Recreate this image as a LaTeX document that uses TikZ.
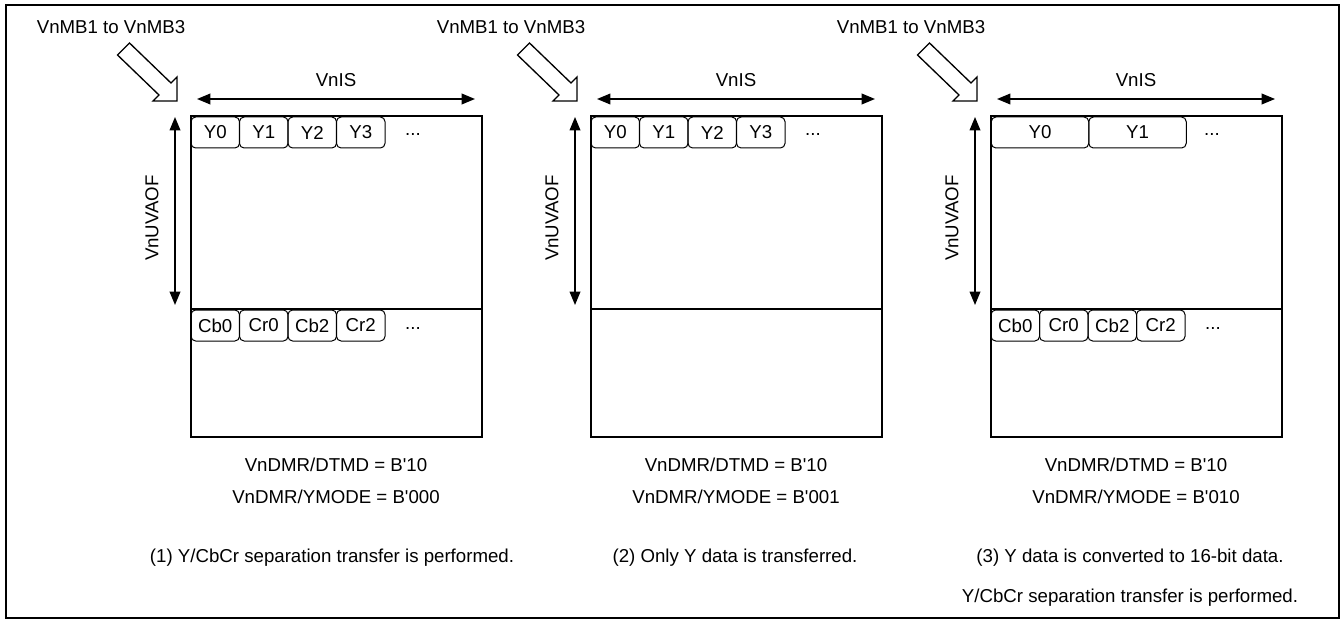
\documentclass[tikz,border=0pt]{standalone}
\usepackage{fontspec}
\setmainfont{Liberation Sans}[Ligatures=TeXOff]
\usetikzlibrary{arrows.meta}
\begin{document}
\begin{tikzpicture}[x=0.75pt,y=-0.75pt,
  lbl/.style={inner sep=0pt,font=\fontsize{14pt}{16pt}\selectfont},
  cell/.style={draw,line width=0.75pt,rounded corners=3.5pt,inner sep=0pt,
    minimum height=23.25pt,font=\fontsize{14pt}{16pt}\selectfont},
  narrow/.style={cell,minimum width=36.4pt},
  wide/.style={cell,minimum width=73.1pt},
  memframe/.style={draw,line width=1.5pt},
  dimarrow/.style={line width=1.1pt,{Triangle[length=10pt,width=8pt]}-{Triangle[length=10pt,width=8pt]}},
  hollow/.style={draw,line width=1pt,fill=white,line join=miter}]
\useasboundingbox (0,0) rectangle (1344,624);
\draw[line width=1.5pt] (6,5) rectangle (1339,618);

% ---------- common parts of each panel ----------
\foreach \k in {0,1,2}{
\begin{scope}[shift={(400*\k,0)}]
  \node[lbl] (mb\k) at (111,27) {VnMB1 to VnMB3};
  \draw[hollow] (129.5,43) -- (171,83) -- (177,77) -- (177,101) -- (153,101) -- (159,95) -- (117.5,55) -- cycle;
  \node[lbl] (is\k) at (336,80) {VnIS};
  \coordinate (isL\k) at (197,99);
  \coordinate (isR\k) at (475,99);
  \draw[dimarrow] (isL\k) -- (isR\k);
  \coordinate (uvT\k) at (175,117);
  \coordinate (uvB\k) at (175,305);
  \draw[dimarrow] (uvT\k) -- (uvB\k);
  \node[lbl,rotate=90] (uv\k) at (152,218) {VnUVAOF};
  \node[lbl] (dt\k) at (336,465) {VnDMR/DTMD = B'10};
\end{scope}
}

% ---------- panel 1 ----------
\foreach \t [count=\i from 0] in {Y0,Y1,Y2,Y3}
  \node[narrow] (a\t) at ({215.25+48.5*\i},132.5) {\t};
\node[lbl] (adots) at (413,135) {...};
\foreach \t [count=\i from 0] in {Cb0,Cr0,Cb2,Cr2}
  \node[narrow] (a\t) at ({215.25+48.5*\i},325.5) {\t};
\node[lbl] (adots2) at (413,328) {...};
\draw[memframe] (191,116) rectangle (482,437);
\draw[memframe] (191,309) -- (482,309);
\node[lbl] (ym1) at (336,497) {VnDMR/YMODE = B'000};
\node[lbl] (c1) at (332,558) {(1) Y/CbCr separation transfer is performed.};

% ---------- panel 2 ----------
\foreach \t [count=\i from 0] in {Y0,Y1,Y2,Y3}
  \node[narrow] (b\t) at ({615.25+48.5*\i},132.5) {\t};
\node[lbl] (bdots) at (813,135) {...};
\draw[memframe] (591,116) rectangle (882,437);
\draw[memframe] (591,309) -- (882,309);
\node[lbl] (ym2) at (736,497) {VnDMR/YMODE = B'001};
\node[lbl] (c2) at (735,558) {(2) Only Y data is transferred.};

% ---------- panel 3 ----------
\foreach \t [count=\i from 0] in {Y0,Y1}
  \node[wide] (c\t) at ({1040+97.5*\i},132.5) {\t};
\node[lbl] (cdots) at (1212,135) {...};
\foreach \t [count=\i from 0] in {Cb0,Cr0,Cb2,Cr2}
  \node[narrow] (c\t) at ({1015.25+48.5*\i},325.5) {\t};
\node[lbl] (cdots2) at (1213,328) {...};
\draw[memframe] (991,116) rectangle (1282,437);
\draw[memframe] (991,309) -- (1282,309);
\node[lbl] (ym3) at (1136,497) {VnDMR/YMODE = B'010};
\node[lbl] (c3a) at (1130,558) {(3) Y data is converted to 16-bit data.};
\node[lbl] (c3b) at (1130,598) {Y/CbCr separation transfer is performed.};
\end{tikzpicture}
\end{document}
